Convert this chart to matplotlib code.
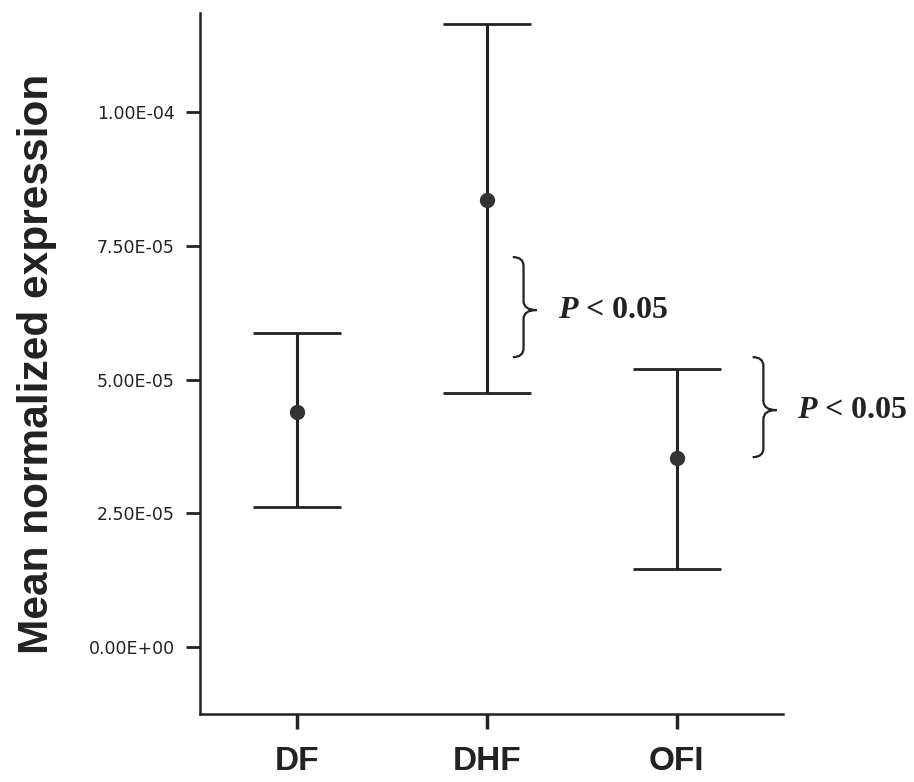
import matplotlib

matplotlib.use("Agg")
import matplotlib.pyplot as plt  # noqa: E402
import numpy as np  # noqa: E402
from matplotlib.patches import PathPatch  # noqa: E402
from matplotlib.path import Path  # noqa: E402
from matplotlib.ticker import FuncFormatter  # noqa: E402

plt.rcParams["mathtext.fontset"] = "custom"
plt.rcParams["mathtext.it"] = "Liberation Serif:italic:bold"
plt.rcParams["mathtext.rm"] = "Liberation Serif:bold"

# values
groups = ["DF", "DHF", "OFI"]
means = [43.9e-6, 83.6e-6, 35.3e-6]
upper = [58.7e-6, 116.4e-6, 52.0e-6]
lower = [26.2e-6, 47.5e-6, 14.6e-6]
yticks = [0.0, 2.5e-5, 5.0e-5, 7.5e-5, 1.0e-4]

# significance braces: (x left, x tip, y bottom, y top, y tip)
braces = [
    (2.137, 2.263, 54.2e-6, 72.9e-6, 63.0e-6),
    (3.40, 3.526, 35.5e-6, 54.2e-6, 44.3e-6),
]
brace_text = "$P$ < 0.05"


def draw_brace(ax, x0, x1, y0, y1, ym, lw=1.6):
    xm = x0 + (x1 - x0) * 0.45
    r = (y1 - y0) * 0.09
    verts = [
        (x0, y1), (xm, y1), (xm, y1 - r),
        (xm, ym + r),
        (xm, ym), (x1, ym),
        (xm, ym), (xm, ym - r),
        (xm, y0 + r),
        (xm, y0), (x0, y0),
    ]
    codes = [
        Path.MOVETO, Path.CURVE3, Path.CURVE3,
        Path.LINETO,
        Path.CURVE3, Path.CURVE3,
        Path.CURVE3, Path.CURVE3,
        Path.LINETO,
        Path.CURVE3, Path.CURVE3,
    ]
    ax.add_patch(PathPatch(Path(verts, codes), fill=False, lw=lw, ec="#222222",
                           clip_on=False))


fig = plt.figure(figsize=(9.14, 7.82), dpi=100)
ax = fig.add_axes([0.2188, 0.087, 0.6379, 0.8962])

x = np.arange(1, len(groups) + 1)
m = np.array(means)
yerr = np.vstack([m - np.array(lower), np.array(upper) - m])
ax.errorbar(x, m, yerr=yerr, fmt="o", color="#222222", ms=10, elinewidth=2.2,
            capsize=32, capthick=2.0, mfc="#333333", mec="#333333")

ax.set_xlim(0.49, 3.56)
ax.set_ylim(-1.25e-5, 1.185e-4)
ax.set_xticks(x)
ax.set_xticklabels(groups, fontsize=24, fontweight="bold", family="Liberation Sans",
                   color="#222222")
ax.set_yticks(yticks)
ax.yaxis.set_major_formatter(FuncFormatter(lambda v, p: f"{v:.2E}"))
for lab in ax.get_yticklabels():
    lab.set_fontsize(12.5)
    lab.set_color("#222222")

ax.tick_params(axis="y", length=10, width=2, pad=8, color="#222222")
ax.tick_params(axis="x", length=11, width=2.5, pad=12, color="#222222")
for side in ("top", "right"):
    ax.spines[side].set_visible(False)
for side in ("left", "bottom"):
    ax.spines[side].set_linewidth(1.8)
    ax.spines[side].set_color("#222222")

ax.set_ylabel("Mean normalized expression", fontsize=30.5, fontweight="bold",
              family="Liberation Sans", color="#222222")
ax.yaxis.set_label_coords(-0.245, 0.5)

for x0, x1, y0, y1, ym in braces:
    draw_brace(ax, x0, x1, y0, y1, ym)
    ax.text(x1 + 0.11, ym, brace_text, fontsize=23, family="Liberation Serif",
            fontweight="bold", va="center", ha="left", color="#222222", clip_on=False)

fig.savefig("out.png", dpi=100)
